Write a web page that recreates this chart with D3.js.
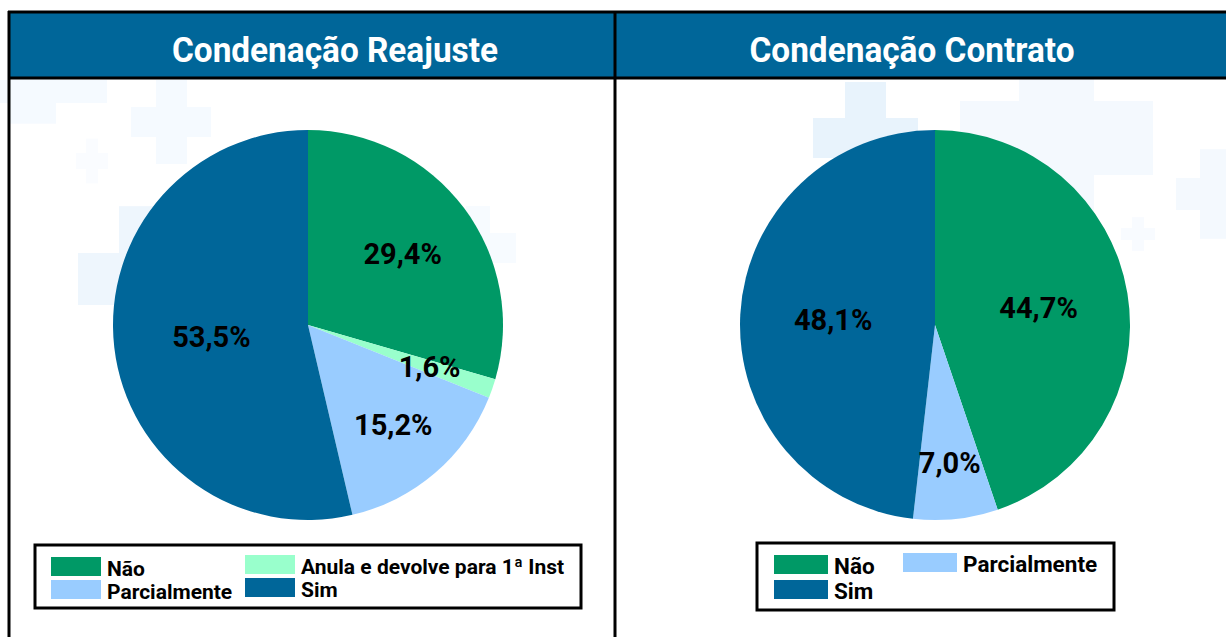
<!DOCTYPE html>
<html>
<head>
<meta charset="utf-8">
<title></title>
<style>
    body { margin: 0; background: #fff; }
    svg { display: block; font-family: Roboto, "Noto Sans", sans-serif; }
    .title { fill: #fff; font-weight: 700; font-size: 35px; }
    .lbl { fill: #000; font-weight: 700; font-size: 29px; }
    .leg { fill: #000; font-weight: 700; }
</style>
</head>
<body>
<svg id="chart" width="1226" height="637"></svg>
<script src="https://cdn.jsdelivr.net/npm/d3@7"></script>
<script>
// data
var reajusteCats = ["Não", "Anula e devolve para 1ª Inst", "Parcialmente", "Sim"];
var reajusteVals = [29.4, 1.6, 15.2, 53.5];
var contratoCats = ["Não", "Parcialmente", "Sim"];
var contratoVals = [44.7, 7.0, 48.1];

var color = d3.scaleOrdinal()
    .domain(["Não", "Anula e devolve para 1ª Inst", "Parcialmente", "Sim"])
    .range(["#009966", "#99ffcc", "#99ccff", "#006699"]);

var svg = d3.select("#chart");

// faint cross watermark in the background
var crosses = [
    [0, 80, 107, 23, 8, 48, "#f5faff"], [131, 107, 80, 30, 156, 31, "#f5faff"],
    [76, 153, 32, 16, 86, 12, "#fafcff"], [78, 253, 80, 52, 119, 60, "#eef6fd"],
    [466, 233, 50, 30, 466, 24, "#f7fbff"], [813, 118, 105, 40, 845, 41, "#e8f3fc"],
    [960, 101, 193, 74, 1019, 75, "#f4f9fe"], [1176, 178, 50, 32, 1200, 26, "#f4f9fe"],
    [1121, 228, 34, 12, 1132, 12, "#f8fbff"]
];
crosses.forEach(function (c) {
    var vy = c[1] - c[3] * 0.9, vh = c[3] * 2.8;
    svg.append("rect").attr("x", c[0]).attr("y", c[1]).attr("width", c[2]).attr("height", c[3]).attr("fill", c[6]);
    svg.append("rect").attr("x", c[4]).attr("y", vy).attr("width", c[5]).attr("height", vh).attr("fill", c[6]);
});

// header band and frame
svg.append("rect").attr("x", 9).attr("y", 12).attr("width", 1217).attr("height", 66).attr("fill", "#006699");
svg.append("line").attr("x1", 8).attr("x2", 1226).attr("y1", 12).attr("y2", 12).attr("stroke", "#000").attr("stroke-width", 3);
svg.append("line").attr("x1", 8).attr("x2", 1226).attr("y1", 78).attr("y2", 78).attr("stroke", "#000").attr("stroke-width", 3);
svg.append("line").attr("x1", 9).attr("x2", 9).attr("y1", 11).attr("y2", 637).attr("stroke", "#000").attr("stroke-width", 3);
svg.append("line").attr("x1", 615).attr("x2", 615).attr("y1", 11).attr("y2", 637).attr("stroke", "#000").attr("stroke-width", 3);

function panel(cfg) {
    var g = svg.append("g");
    g.append("text").attr("class", "title")
        .attr("x", cfg.tx).attr("y", 62)
        .attr("text-anchor", "middle")
        .attr("textLength", cfg.tw).attr("lengthAdjust", "spacingAndGlyphs")
        .text(cfg.title);

    var r = 195;
    var data = cfg.cats.map(function (c, i) { return { cat: c, val: cfg.vals[i] }; });
    var pie = d3.pie().sort(null).value(function (d) { return d.val; });
    var arc = d3.arc().innerRadius(0).outerRadius(r);
    var arcs = pie(data);
    var total = d3.sum(cfg.vals);

    var pg = g.append("g").attr("transform", "translate(" + cfg.cx + "," + cfg.cy + ")");
    pg.selectAll("path").data(arcs).enter().append("path")
        .attr("d", arc)
        .attr("fill", function (d) { return color(d.data.cat); });

    pg.selectAll("text").data(arcs).enter().append("text")
        .attr("class", "lbl")
        .attr("text-anchor", "middle")
        .attr("dy", "0.36em")
        .attr("transform", function (d) {
            var p = d.data.val / total;
            var lr = r * Math.max(0.48, 0.74 - 0.45 * p) * (p < 0.03 ? 0.9 : 1);
            var a = (d.startAngle + d.endAngle) / 2;
            return "translate(" + (Math.sin(a) * lr) + "," + (-Math.cos(a) * lr) + ")";
        })
        .text(function (d) { return d3.format(".1f")(d.data.val).replace(".", ",") + "%"; });

    // legend
    var L = cfg.legend;
    g.append("rect").attr("x", L.x).attr("y", L.y).attr("width", L.w).attr("height", L.h)
        .attr("fill", "#fff").attr("stroke", "#000").attr("stroke-width", 3);
    var items = g.selectAll(".li").data(cfg.cats).enter().append("g")
        .attr("transform", function (d, i) {
            var col = i % 2, row = Math.floor(i / 2);
            return "translate(" + L.cols[col] + "," + (L.top + row * L.step - (col ? 2 : 0)) + ")";
        });
    items.append("rect").attr("width", L.sw).attr("height", 19)
        .attr("fill", function (d) { return color(d); });
    items.append("text").attr("class", "leg")
        .attr("x", L.sw + 6).attr("y", 19)
        .style("font-size", L.fs + "px")
        .text(function (d) { return d; });
}

panel({
    title: "Condenação Reajuste", cats: reajusteCats, vals: reajusteVals,
    cx: 308, cy: 325, tx: 335, tw: 326,
    legend: { x: 35, y: 545, w: 546, h: 63, top: 557, step: 23, cols: [51, 245], sw: 50, fs: 21 }
});
panel({
    title: "Condenação Contrato", cats: contratoCats, vals: contratoVals,
    cx: 935, cy: 325, tx: 912, tw: 325,
    legend: { x: 757, y: 543, w: 357, h: 67, top: 555, step: 25, cols: [774, 903], sw: 54, fs: 22.5 }
});
</script>
</body>
</html>
